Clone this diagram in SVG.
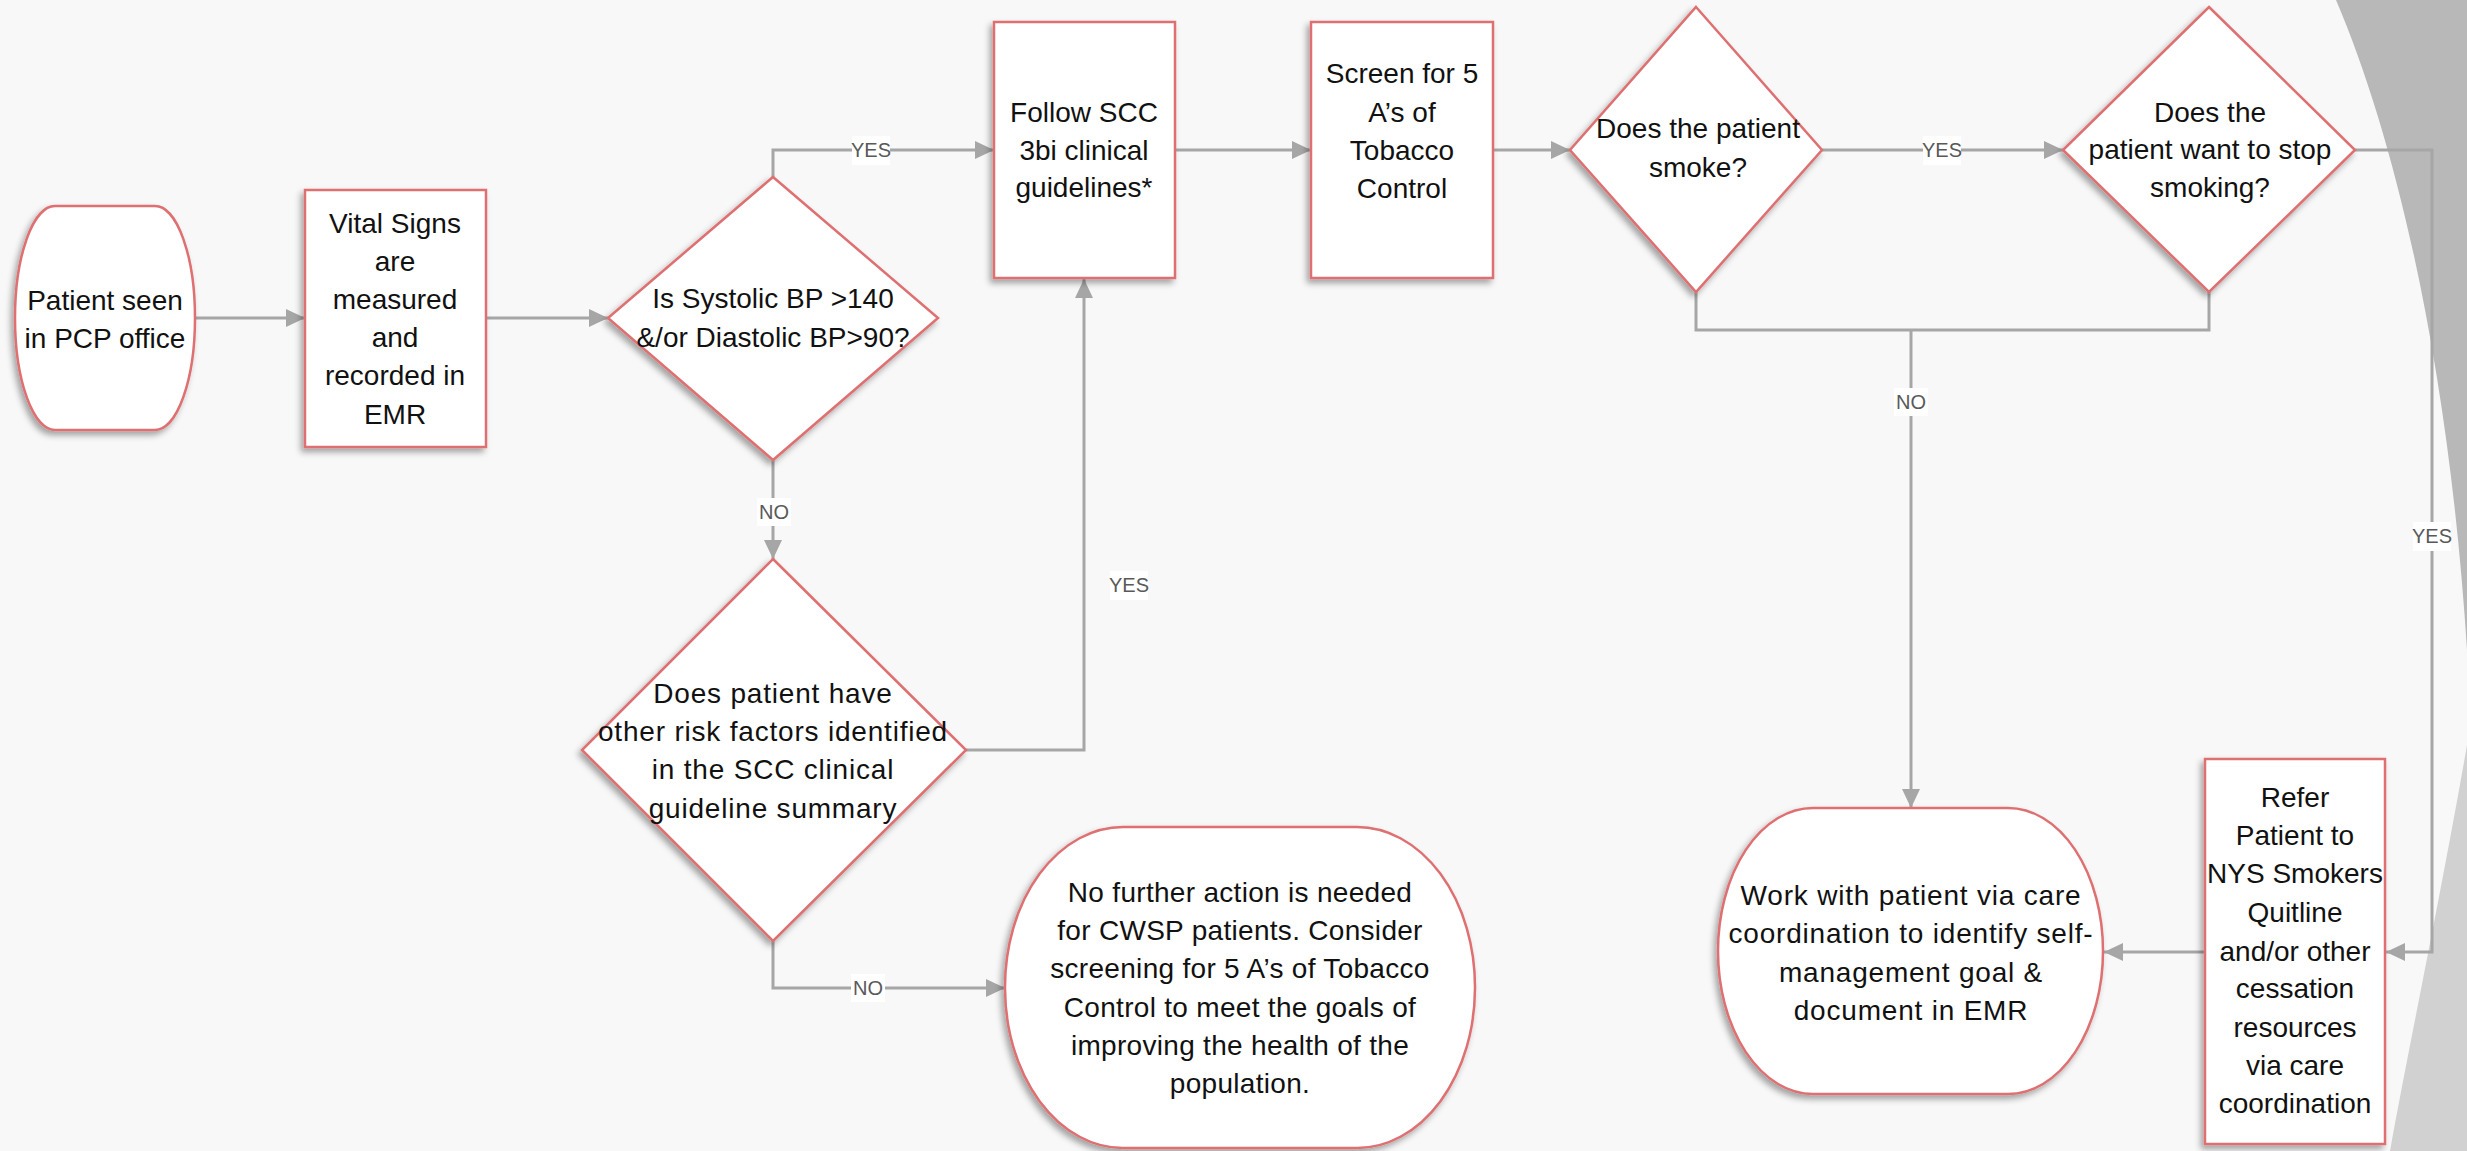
<svg xmlns="http://www.w3.org/2000/svg" width="2467" height="1151" viewBox="0 0 2467 1151">
  <defs>
    <filter id="shadow" x="-20%" y="-20%" width="140%" height="140%">
      <feDropShadow dx="-3" dy="4" stdDeviation="3" flood-color="#000" flood-opacity="0.35"/>
    </filter>
    <marker id="arrow" markerUnits="userSpaceOnUse" markerWidth="19" markerHeight="18" refX="19" refY="9" orient="auto">
      <path d="M0,0 L19,9 L0,18 Z" fill="#a6a6a6"/>
    </marker>
    <style>
      .node { fill: #ffffff; stroke: #de6f71; stroke-width: 2.5; filter: url(#shadow); }
      .txt { font-family: "Liberation Sans", Arial, sans-serif; font-size: 28px; fill: #111111; text-anchor: middle; }
      .conn { fill: none; stroke: #a6a6a6; stroke-width: 3; }
      .arr { marker-end: url(#arrow); }
      .lblbg { fill: #ffffff; }
      .lbl { font-family: "Liberation Sans", Arial, sans-serif; font-size: 20px; fill: #595959; text-anchor: middle; }
    </style>
  </defs>

  <!-- background -->
  <rect x="0" y="0" width="2467" height="1151" fill="#f8f8f8"/>
  <path d="M2336,0 C2400,150 2450,380 2467,650 L2467,0 Z" fill="#b8b8b8"/>
  <path d="M2467,745 C2440,900 2410,1040 2390,1151 L2467,1151 Z" fill="#d1d1d1"/>
  <path d="M1698,84 Q1709,70 1721,84" fill="none" stroke="#f3d6d6" stroke-width="3"/>

  <!-- connectors -->
  <g id="connectors">
    <path class="conn arr" d="M195,318 H305"/>
    <path class="conn arr" d="M486,318 H608"/>
    <path class="conn arr" d="M773,177 V150 H994"/>
    <path class="conn arr" d="M1175,150 H1311"/>
    <path class="conn arr" d="M1493,150 H1570"/>
    <path class="conn arr" d="M1822,150 H2063"/>
    <path class="conn" d="M1696,292 V330 H2209 V292"/>
    <path class="conn arr" d="M1911,330 V808"/>
    <path class="conn arr" d="M2355,150 H2432 V952 H2386"/>
    <path class="conn arr" d="M2205,952 H2104"/>
    <path class="conn arr" d="M773,460 V559"/>
    <path class="conn arr" d="M966,750 H1084 V279"/>
    <path class="conn arr" d="M773,941 V988 H1005"/>

    <rect class="lblbg" x="852" y="136" width="38" height="29"/>
    <text class="lbl" x="871" y="157">YES</text>
    <rect class="lblbg" x="1923" y="136" width="38" height="29"/>
    <text class="lbl" x="1942" y="157">YES</text>
    <rect class="lblbg" x="2413" y="522" width="38" height="29"/>
    <text class="lbl" x="2432" y="543">YES</text>
    <rect class="lblbg" x="1110" y="571" width="38" height="29"/>
    <text class="lbl" x="1129" y="592">YES</text>
    <rect class="lblbg" x="757" y="498" width="34" height="28"/>
    <text class="lbl" x="774" y="519">NO</text>
    <rect class="lblbg" x="851" y="974" width="34" height="28"/>
    <text class="lbl" x="868" y="995">NO</text>
    <rect class="lblbg" x="1894" y="388" width="34" height="28"/>
    <text class="lbl" x="1911" y="409">NO</text>
  </g>

  <!-- nodes -->
  <g id="start">
    <rect class="node" x="15" y="206" width="180" height="224" rx="40" ry="112"/>
    <text class="txt" x="105" y="310">Patient seen</text>
    <text class="txt" x="105" y="348">in PCP office</text>
  </g>

  <g id="vital-signs">
    <rect class="node" x="305" y="190" width="181" height="257"/>
    <text class="txt" x="395" y="233">Vital Signs</text>
    <text class="txt" x="395" y="271">are</text>
    <text class="txt" x="395" y="309">measured</text>
    <text class="txt" x="395" y="347">and</text>
    <text class="txt" x="395" y="385">recorded in</text>
    <text class="txt" x="395" y="424">EMR</text>
  </g>

  <g id="decision-bp">
    <polygon class="node" points="773,177 938,318 773,460 608,318"/>
    <text class="txt" x="773" y="308">Is Systolic BP &gt;140</text>
    <text class="txt" x="773" y="347">&amp;/or Diastolic BP&gt;90?</text>
  </g>

  <g id="follow-scc">
    <rect class="node" x="994" y="22" width="181" height="256"/>
    <text class="txt" x="1084" y="122">Follow SCC</text>
    <text class="txt" x="1084" y="160">3bi clinical</text>
    <text class="txt" x="1084" y="197">guidelines*</text>
  </g>

  <g id="screen-5as">
    <rect class="node" x="1311" y="22" width="182" height="256"/>
    <text class="txt" x="1402" y="83">Screen for 5</text>
    <text class="txt" x="1402" y="122">A’s of</text>
    <text class="txt" x="1402" y="160">Tobacco</text>
    <text class="txt" x="1402" y="198">Control</text>
  </g>

  <g id="decision-smoke">
    <polygon class="node" points="1696,7 1822,150 1696,292 1570,150"/>
    <text class="txt" x="1698" y="138">Does the patient</text>
    <text class="txt" x="1698" y="177">smoke?</text>
  </g>

  <g id="decision-stop">
    <polygon class="node" points="2209,7 2355,150 2209,292 2063,150"/>
    <text class="txt" x="2210" y="122">Does the</text>
    <text class="txt" x="2210" y="159">patient want to stop</text>
    <text class="txt" x="2210" y="197">smoking?</text>
  </g>

  <g id="decision-risk">
    <polygon class="node" points="773,559 966,750 773,941 582,750"/>
    <text class="txt" x="773" y="703" letter-spacing="0.8">Does patient have</text>
    <text class="txt" x="773" y="741" letter-spacing="0.8">other risk factors identified</text>
    <text class="txt" x="773" y="779" letter-spacing="0.8">in the SCC clinical</text>
    <text class="txt" x="773" y="818" letter-spacing="0.8">guideline summary</text>
  </g>

  <g id="no-further-action">
    <rect class="node" x="1005" y="827" width="470" height="321" rx="118" ry="160"/>
    <text class="txt" x="1240" y="902" letter-spacing="0.3">No further action is needed</text>
    <text class="txt" x="1240" y="940" letter-spacing="0.3">for CWSP patients. Consider</text>
    <text class="txt" x="1240" y="978" letter-spacing="0.3">screening for 5 A’s of Tobacco</text>
    <text class="txt" x="1240" y="1017" letter-spacing="0.3">Control to meet the goals of</text>
    <text class="txt" x="1240" y="1055" letter-spacing="0.3">improving the health of the</text>
    <text class="txt" x="1240" y="1093" letter-spacing="0.3">population.</text>
  </g>

  <g id="work-with-patient">
    <rect class="node" x="1718" y="808" width="385" height="286" rx="95" ry="143"/>
    <text class="txt" x="1911" y="905" letter-spacing="0.8">Work with patient via care</text>
    <text class="txt" x="1911" y="943" letter-spacing="0.8">coordination to identify self-</text>
    <text class="txt" x="1911" y="982" letter-spacing="0.8">management goal &amp;</text>
    <text class="txt" x="1911" y="1020" letter-spacing="0.8">document in EMR</text>
  </g>

  <g id="refer-quitline">
    <rect class="node" x="2205" y="759" width="180" height="385"/>
    <text class="txt" x="2295" y="807">Refer</text>
    <text class="txt" x="2295" y="845">Patient to</text>
    <text class="txt" x="2295" y="883" font-size="27">NYS Smokers</text>
    <text class="txt" x="2295" y="922">Quitline</text>
    <text class="txt" x="2295" y="961">and/or other</text>
    <text class="txt" x="2295" y="998">cessation</text>
    <text class="txt" x="2295" y="1037">resources</text>
    <text class="txt" x="2295" y="1075">via care</text>
    <text class="txt" x="2295" y="1113">coordination</text>
  </g>
</svg>
